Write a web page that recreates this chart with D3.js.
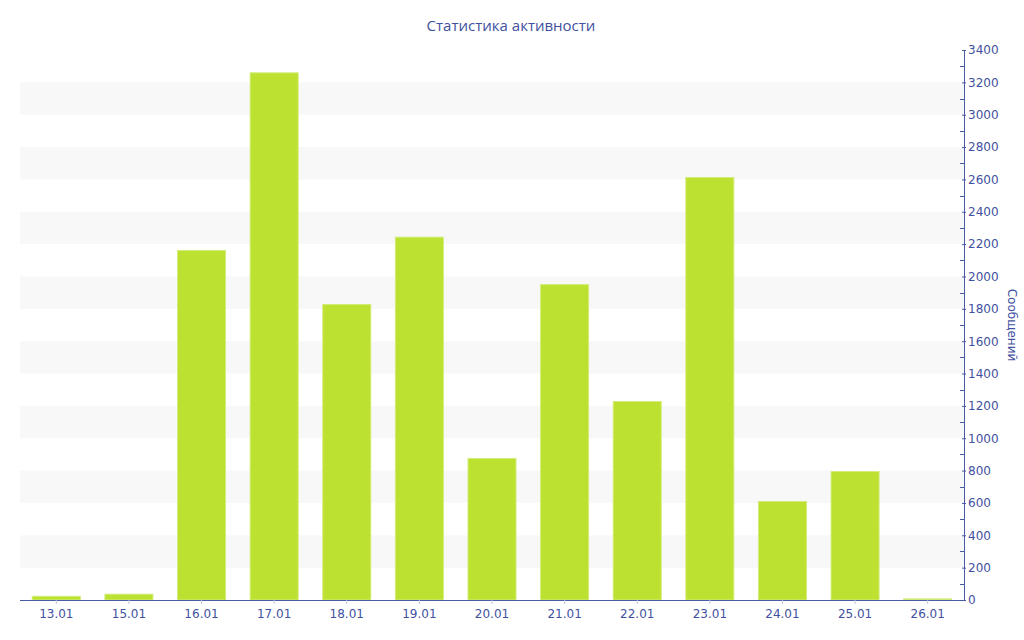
<!DOCTYPE html>
<html><head><meta charset="utf-8">
<script src="https://cdn.jsdelivr.net/npm/d3@7"></script>
<style>body{margin:0;background:#fff}svg{display:block}</style>
</head><body>
<svg id="c" width="1024" height="640"></svg>
<script>
const categories = ["13.01","15.01","16.01","17.01","18.01","19.01","20.01","21.01","22.01","23.01","24.01","25.01","26.01"];
const values = [26, 39, 2164, 3262, 1830, 2246, 878, 1953, 1230, 2615, 612, 797, 10];
const yTicks = [0,200,400,600,800,1000,1200,1400,1600,1800,2000,2200,2400,2600,2800,3000,3200,3400];
const title = "Статистика активности";
const yTitle = "Сообщений";

const svg = d3.select("#c");
const L = 20, R = 964, T = 50, B = 600;
const textColor = "#3f51a0", axisColor = "#4a5ba6";
const font = "DejaVu Sans, Verdana, sans-serif";

const x = d3.scaleBand().domain(categories).range([L, R]).paddingInner(0.325).paddingOuter(0.1625);
const y = d3.scaleLinear().domain([0, 3400]).range([B, T]);

// bands
const bands = [];
for (let i = 1; i + 1 < yTicks.length; i += 2) bands.push([yTicks[i], yTicks[i+1]]);
svg.append("g").selectAll("rect").data(bands).join("rect")
  .attr("x", L).attr("width", R - L)
  .attr("y", d => y(d[1])).attr("height", d => y(d[0]) - y(d[1]))
  .attr("fill", "#f8f8f8");

// bars
svg.append("g").selectAll("rect").data(values).join("rect")
  .attr("x", (d,i) => x(categories[i]) + 0.5)
  .attr("width", x.bandwidth() - 1)
  .attr("y", d => y(d) + 0.5)
  .attr("height", d => Math.max(0, B - y(d) - 0.5))
  .attr("fill", "#bde130").attr("stroke", "#d2ec7a").attr("stroke-width", 1);

// x axis
const xa = svg.append("g").attr("transform", `translate(0,${B})`)
  .call(d3.axisBottom(x).tickSize(4).tickSizeOuter(0));
xa.select(".domain").attr("stroke", axisColor).attr("d", `M${L},0.5H${R}`);
xa.selectAll(".tick line").attr("stroke", "#c0c6dd");
xa.selectAll("text").attr("fill", textColor).attr("font-family", font).attr("font-size", 12).attr("dy", "0.95em");

// y axis right
const minor = d3.range(100, 3400, 200);
svg.append("g").selectAll("line").data(minor).join("line")
  .attr("x1", R - 4).attr("x2", R).attr("y1", d => Math.round(y(d)) + 0.5).attr("y2", d => Math.round(y(d)) + 0.5)
  .attr("stroke", axisColor);
const ya = svg.append("g").attr("transform", `translate(${R},0)`)
  .call(d3.axisRight(y).tickValues(yTicks).tickSize(2).tickSizeOuter(0).tickFormat(d3.format("d")));
ya.select(".domain").attr("stroke", axisColor);
ya.selectAll(".tick line").attr("stroke", axisColor).attr("x1", -2);
ya.selectAll("text").attr("fill", textColor).attr("font-family", font).attr("font-size", 12).attr("x", 4);

// titles
svg.append("text").attr("x", 511).attr("y", 31).attr("text-anchor", "middle")
  .attr("fill", textColor).attr("font-family", "Open Sans, Noto Sans, sans-serif").attr("font-size", 15).text(title);
svg.append("text").attr("transform", "translate(1008,325) rotate(90)").attr("text-anchor", "middle")
  .attr("fill", textColor).attr("font-family", font).attr("font-size", 12).text(yTitle);
</script>
</body></html>
